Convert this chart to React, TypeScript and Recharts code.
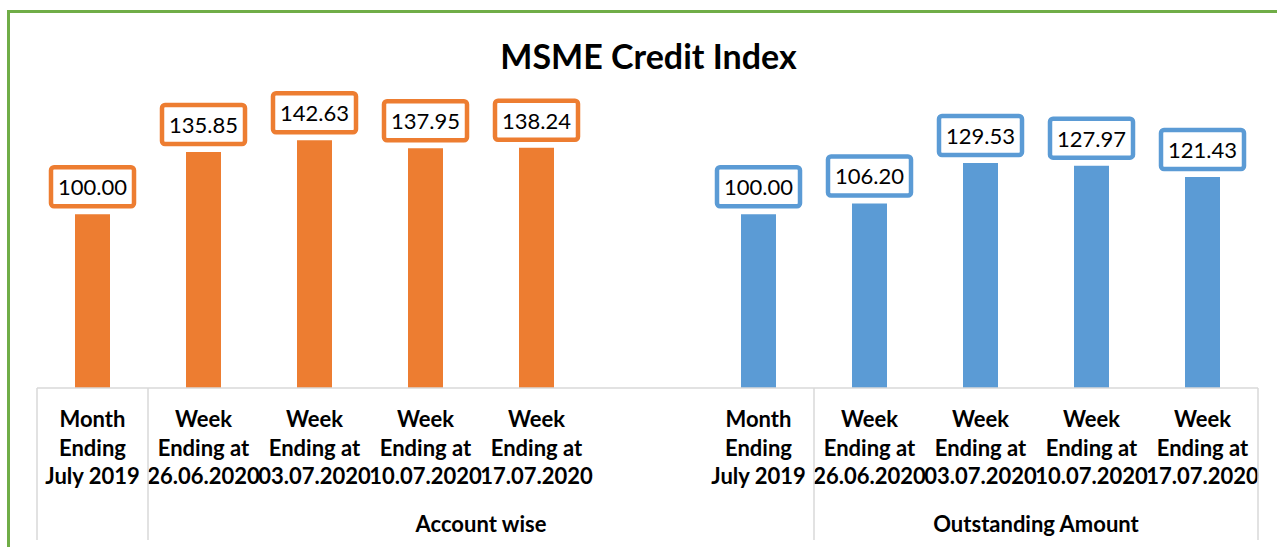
import { BarChart, Bar, XAxis, YAxis } from 'recharts'

const tickLines = [
  ['Month', 'Ending', 'July 2019'],
  ['Week', 'Ending at', '26.06.2020'],
  ['Week', 'Ending at', '03.07.2020'],
  ['Week', 'Ending at', '10.07.2020'],
  ['Week', 'Ending at', '17.07.2020'],
  [],
  ['Month', 'Ending', 'July 2019'],
  ['Week', 'Ending at', '26.06.2020'],
  ['Week', 'Ending at', '03.07.2020'],
  ['Week', 'Ending at', '10.07.2020'],
  ['Week', 'Ending at', '17.07.2020'],
]

const accountWise = [100.0, 135.85, 142.63, 137.95, 138.24, null, null, null, null, null, null]
const outstandingAmount = [null, null, null, null, null, null, 100.0, 106.2, 129.53, 127.97, 121.43]

const groups = [
  { name: '', start: 0, span: 1 },
  { name: 'Account wise', start: 1, span: 6 },
  { name: 'Outstanding Amount', start: 7, span: 4 },
]

const data = tickLines.map((_, i) => ({
  key: 'c' + i,
  accountWise: accountWise[i],
  outstandingAmount: outstandingAmount[i],
}))

const ORANGE = '#ED7D31'
const BLUE = '#5B9BD5'
const GRID = '#D9D9D9'
const FONT = 'Lato, "Open Sans", sans-serif'

function CategoryTick(props: any) {
  const { x, y, index, payload } = props
  const band = (payload && payload.offset ? payload.offset : 55.5) * 2
  const lines = tickLines[index] || []
  const group = groups.find((g) => g.start === index)
  const isLast = index === tickLines.length - 1
  return (
    <g>
      <text x={x} y={y + 39} textAnchor="middle" fontFamily={FONT} fontWeight={700} fontSize={22} fill="#000">
        {lines.map((l, i) => (
          <tspan key={i} x={x} dy={i === 0 ? 0 : 28.5}>
            {l}
          </tspan>
        ))}
      </text>
      {group && (
        <line x1={x - band / 2} x2={x - band / 2} y1={y} y2={y + 152} stroke={GRID} strokeWidth={1.5} />
      )}
      {group && group.name && (
        <text
          x={x - band / 2 + (group.span * band) / 2}
          y={y + 144}
          textAnchor="middle"
          fontFamily={FONT}
          fontWeight={700}
          fontSize={22}
          fill="#000"
        >
          {group.name}
        </text>
      )}
      {isLast && <line x1={x + band / 2} x2={x + band / 2} y1={y} y2={y + 152} stroke={GRID} strokeWidth={1.5} />}
    </g>
  )
}

const makeLabel = (color: string) => (props: any) => {
  const { x, y, width, value } = props
  if (value == null) return null
  const cx = Number(x) + Number(width) / 2
  const bw = 87
  const bh = 43
  const top = Number(y) - 6 - bh
  return (
    <g>
      <rect x={cx - bw / 2 + 2} y={top + 2} width={bw - 4} height={bh - 4} rx={3} fill="#fff" stroke={color} strokeWidth={4.5} />
      <text x={cx} y={top + 30} textAnchor="middle" fontFamily={FONT} fontSize={22} fill="#000">
        {Number(value).toFixed(2)}
      </text>
    </g>
  )
}

export default function App() {
  return (
    <div style={{ position: 'absolute', left: 0, top: 0, width: 1277, height: 547, overflow: 'hidden', background: '#fff' }}>
      <div
        style={{
          position: 'absolute',
          left: 7,
          top: 10,
          width: 1300,
          height: 600,
          border: '3px solid #70AD47',
          boxSizing: 'border-box',
        }}
      />
      <div
        style={{
          position: 'absolute',
          left: 0,
          top: 36,
          width: 1297,
          textAlign: 'center',
          fontFamily: FONT,
          fontWeight: 700,
          fontSize: 34,
          lineHeight: '40px',
          color: '#000',
        }}
      >
        MSME Credit Index
      </div>
      <div style={{ position: 'absolute', left: 0, top: 0 }}>
        <BarChart width={1277} height={547} data={data} margin={{ top: 110, right: 19, bottom: 0, left: 37 }}>
          <XAxis
            dataKey="key"
            height={159}
            interval={0}
            tickLine={false}
            tickSize={0}
            tickMargin={0}
            axisLine={{ stroke: GRID, strokeWidth: 1.5 }}
            tick={<CategoryTick />}
          />
          <YAxis hide domain={[0, 160]} />
          <Bar dataKey="accountWise" stackId="s" fill={ORANGE} barSize={35} isAnimationActive={false} label={makeLabel(ORANGE)} />
          <Bar dataKey="outstandingAmount" stackId="s" fill={BLUE} barSize={35} isAnimationActive={false} label={makeLabel(BLUE)} />
        </BarChart>
      </div>
    </div>
  )
}
